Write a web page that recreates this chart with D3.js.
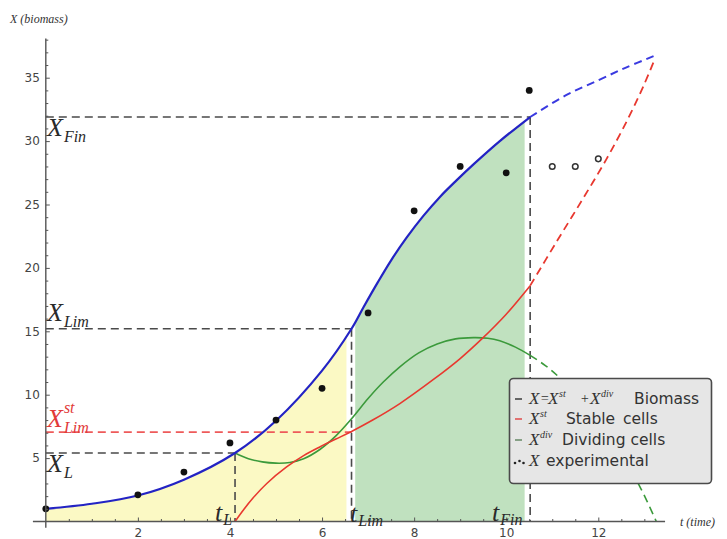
<!DOCTYPE html>
<html><head><meta charset="utf-8">
<script src="https://cdn.jsdelivr.net/npm/d3@7"></script>
<style>
html,body{margin:0;padding:0;background:#fff;}
svg{display:block;}
</style></head>
<body>
<svg id="chart" width="727" height="539"></svg>
<script>
// ---- data ----
const xTickLabels = [2, 4, 6, 8, 10, 12];
const yTickLabels = [5, 10, 15, 20, 25, 30, 35];

// biomass X (solid part, then extrapolated dashed part)
const bioT = [0, 1, 2, 3, 4.11, 5, 6, 6.64, 6.9, 7.2, 7.5, 7.84, 8.2, 8.56, 8.92, 9.3, 9.86, 10.52];
const bioX = [1.0, 1.4, 2.05, 3.3, 5.4, 7.95, 11.9, 15.2, 16.9, 18.8, 20.6, 22.4, 24.1, 25.6, 26.9, 28.2, 30.0, 31.9];
const bioDashT = [10.52, 11.29, 12.0, 12.6, 13.2];
const bioDashX = [31.9, 33.6, 34.8, 35.8, 36.7];

// stable cells X^st
const stT = [4.11, 4.3, 4.5, 4.8, 5.23, 5.6, 5.96, 6.3, 6.64, 7.1, 7.69, 8.42, 9.0, 9.47, 10.0, 10.52];
const stX = [0, 0.95, 1.85, 3.0, 4.3, 5.2, 5.9, 6.5, 7.1, 8.0, 9.3, 11.2, 12.85, 14.4, 16.35, 18.6];
const stDashT = [10.52, 11.1, 11.64, 12.18, 12.65, 13.0, 13.23];
const stDashX = [18.6, 22.1, 25.3, 28.6, 31.8, 34.5, 36.5];

// dividing cells X^div
const divT = [4.11, 4.4, 4.7, 5.0, 5.3, 5.6, 5.96, 6.3, 6.64, 7.0, 7.33, 7.69, 8.1, 8.5, 8.9, 9.29, 9.6, 9.86, 10.2, 10.52];
const divX = [5.4, 4.95, 4.7, 4.6, 4.65, 4.95, 5.7, 6.75, 8.1, 9.7, 11.0, 12.2, 13.3, 14.0, 14.4, 14.5, 14.45, 14.25, 13.75, 13.1];
const divDashT = [10.52, 10.85, 11.17, 11.64, 12.18, 12.65, 12.91, 13.26];
const divDashX = [13.1, 12.3, 11.3, 9.4, 6.8, 4.3, 2.7, 0];

// experimental points
const expT = [0, 2, 3, 4, 5, 6, 7, 8, 9, 10, 10.5];
const expX = [1.0, 2.1, 3.9, 6.2, 8.0, 10.5, 16.45, 24.5, 28.0, 27.5, 34.0];
const openT = [11, 11.5, 12];
const openX = [28.0, 28.0, 28.6];

// characteristic values
const tL = 4.11, tLim = 6.64, tFin = 10.52;
const XL = 5.4, XLim = 15.2, XLimSt = 7.05, XFin = 31.9;
const yellowRange = [0, 6.53];
const greenRange = [6.72, 10.4];

// ---- drawing ----
const svg = d3.select("#chart");
const x = d3.scaleLinear().domain([0, 12]).range([45.8, 598.3]);
const y = d3.scaleLinear().domain([0, 35]).range([521.5, 77.7]);

const zip = (a, b) => a.map((v, i) => [v, b[i]]);
const cv = d3.curveCatmullRom.alpha(0.5);
const line = d3.line().x(d => x(d[0])).y(d => y(d[1])).curve(cv);
const area = d3.area().x(d => x(d[0])).y0(y(0)).y1(d => y(d[1])).curve(cv);

const defs = svg.append("defs");
function clip(id, r) {
  defs.append("clipPath").attr("id", id).append("rect")
    .attr("x", x(r[0])).attr("y", 0).attr("width", x(r[1]) - x(r[0])).attr("height", y(0));
}
clip("cy", yellowRange);
clip("cg", greenRange);

const bio = zip(bioT, bioX);
svg.append("path").attr("d", area(bio)).attr("fill", "#fbf9c4").attr("clip-path", "url(#cy)");
svg.append("path").attr("d", area(bio)).attr("fill", "#c0e1bf").attr("clip-path", "url(#cg)");

// reference dashed lines
const refG = svg.append("g").attr("fill", "none").attr("stroke-width", 1.6).attr("stroke-dasharray", "8,5");
function hline(v, t1, col) {
  refG.append("line").attr("x1", x(0)).attr("x2", x(t1)).attr("y1", y(v)).attr("y2", y(v)).attr("stroke", col);
}
function vline(t, v) {
  refG.append("line").attr("x1", x(t)).attr("x2", x(t)).attr("y1", y(v)).attr("y2", y(0)).attr("stroke", "#4a4a4a");
}
hline(XFin, tFin, "#4a4a4a");
hline(XLim, tLim, "#4a4a4a");
hline(XL, tL, "#4a4a4a");
hline(XLimSt, tLim, "#ee5a5a");
vline(tL, XL);
vline(tLim, XLim);
vline(tFin, XFin);

// curves
const blue = "#2323c4", red = "#e8382f", green = "#3b9a3b";
function curve(data, col, w, dashed) {
  svg.append("path").attr("d", line(data)).attr("fill", "none").attr("stroke", col)
    .attr("stroke-width", w).attr("stroke-dasharray", dashed ? "8,5" : null);
}
curve(zip(divT, divX), green, 1.6, false);
curve(zip(divDashT, divDashX), green, 1.6, true);
curve(zip(stT, stX), red, 1.6, false);
curve(zip(stDashT, stDashX), red, 1.8, true);
curve(bio, blue, 2.2, false);
curve(zip(bioDashT, bioDashX), "#3a3ae0", 2.0, true);

// points
svg.append("g").selectAll("circle").data(zip(expT, expX)).join("circle")
  .attr("cx", d => x(d[0])).attr("cy", d => y(d[1])).attr("r", 3.4).attr("fill", "#111");
svg.append("g").selectAll("circle").data(zip(openT, openX)).join("circle")
  .attr("cx", d => x(d[0])).attr("cy", d => y(d[1])).attr("r", 2.8)
  .attr("fill", "#fff").attr("stroke", "#333").attr("stroke-width", 1.5);

// axes
const axCol = "#555";
const gx = svg.append("g").attr("transform", `translate(0,${y(0)})`)
  .call(d3.axisBottom(x).tickValues(xTickLabels).tickSizeInner(-4).tickSizeOuter(0).tickPadding(7));
const gxm = svg.append("g").attr("transform", `translate(0,${y(0)})`)
  .call(d3.axisBottom(x).tickValues(d3.range(0.5, 13.01, 0.5).filter(v => v % 2 !== 0)).tickSizeInner(-2.5).tickSizeOuter(0).tickFormat(""));
const gy = svg.append("g").attr("transform", `translate(${x(0)},0)`)
  .call(d3.axisLeft(y).tickValues(yTickLabels).tickSizeInner(-4).tickSizeOuter(0).tickPadding(6));
const gym = svg.append("g").attr("transform", `translate(${x(0)},0)`)
  .call(d3.axisLeft(y).tickValues(d3.range(1, 38.01, 1).filter(v => v % 5 !== 0)).tickSizeInner(-2.5).tickSizeOuter(0).tickFormat(""));
[gx, gxm, gy, gym].forEach(g => {
  g.select(".domain").remove();
  g.selectAll("line").attr("stroke", axCol).attr("stroke-width", 1);
  g.selectAll("text").attr("fill", "#444").attr("font-family", "DejaVu Sans").attr("font-size", 12);
});
svg.append("line").attr("x1", x(-0.28)).attr("x2", x(13.45)).attr("y1", y(0)).attr("y2", y(0))
  .attr("stroke", axCol).attr("stroke-width", 1.4);
svg.append("line").attr("x1", x(0)).attr("x2", x(0)).attr("y1", y(-0.5)).attr("y2", y(38.1))
  .attr("stroke", axCol).attr("stroke-width", 1.4);

// axis titles
const serif = "Liberation Serif";
svg.append("text").attr("x", 10).attr("y", 23).attr("font-family", serif).attr("font-style", "italic")
  .attr("font-size", 12).attr("fill", "#333").text("X (biomass)");
svg.append("text").attr("x", 680).attr("y", 526).attr("font-family", serif).attr("font-style", "italic")
  .attr("font-size", 12).attr("fill", "#333").text("t (time)");

// math labels
function mathLabel(px, py, base, sub, sup, col, big, small, subDy) {
  const t = svg.append("text").attr("x", px).attr("y", py).attr("font-family", serif)
    .attr("font-style", "italic").attr("fill", col).attr("font-size", big);
  t.append("tspan").text(base);
  const bb = t.node().getComputedTextLength();
  if (sup) svg.append("text").attr("x", px + bb + 1).attr("y", py - 14).attr("font-family", serif)
    .attr("font-style", "italic").attr("fill", col).attr("font-size", small).text(sup);
  if (sub) svg.append("text").attr("x", px + bb + 1).attr("y", py + (subDy == null ? 6 : subDy)).attr("font-family", serif)
    .attr("font-style", "italic").attr("fill", col).attr("font-size", small).text(sub);
}
const dark = "#2a2a2a";
mathLabel(47, 136, "X", "Fin", null, dark, 26, 16);
mathLabel(47, 321, "X", "Lim", null, dark, 26, 16);
mathLabel(47, 427, "X", "Lim", "st", "#e23a3a", 26, 16);
mathLabel(47, 472, "X", "L", null, dark, 26, 16);
mathLabel(215, 521, "t", "L", null, dark, 26, 16, 4);
mathLabel(350, 522, "t", "Lim", null, dark, 26, 16, 4);
mathLabel(492, 521, "t", "Fin", null, dark, 26, 16, 4);

// legend
const lg = svg.append("g");
lg.append("rect").attr("x", 509.5).attr("y", 378.5).attr("width", 202).attr("height", 105).attr("rx", 4)
  .attr("fill", "#e6e6e6").attr("stroke", "#4a4a4a").attr("stroke-width", 1.6);
const legendRows = [
  {dash: "#444", y: 404},
  {dash: "#e05555", y: 424},
  {dash: "#6e8e6e", y: 445},
  {dash: null, y: 466}
];
const sans = "DejaVu Sans", tc = "#333";
legendRows.forEach(r => {
  if (r.dash) lg.append("line").attr("x1", 515).attr("x2", 522).attr("y1", r.y - 5).attr("y2", r.y - 5)
    .attr("stroke", r.dash).attr("stroke-width", 1.6);
  else {
    lg.append("circle").attr("cx", 515).attr("cy", r.y - 3).attr("r", 1.3).attr("fill", "#222");
    lg.append("circle").attr("cx", 519.5).attr("cy", r.y - 5).attr("r", 1.3).attr("fill", "#222");
    lg.append("circle").attr("cx", 523.5).attr("cy", r.y - 3).attr("r", 1.3).attr("fill", "#222");
  }
});
function lt(px, py, str, opts) {
  return lg.append("text").attr("x", px).attr("y", py).attr("fill", tc)
    .attr("font-family", opts.serif ? serif : sans).attr("font-size", opts.size || 15.5)
    .attr("font-style", opts.serif ? "italic" : null).text(str);
}
// row 1
lt(529, 404, "X", {serif: 1, size: 17});
lt(540, 403, "=", {serif: 1, size: 14});
lt(548, 404, "X", {serif: 1, size: 17});
lt(559, 397, "st", {serif: 1, size: 10});
lt(580, 403, "+", {serif: 1, size: 14});
lt(590, 404, "X", {serif: 1, size: 17});
lt(601, 397, "div", {serif: 1, size: 10});
lt(634, 404, "Biomass", {});
// row 2
lt(529, 424, "X", {serif: 1, size: 17});
lt(540, 417, "st", {serif: 1, size: 10});
lt(566, 424, "Stable", {});
lt(623, 424, "cells", {});
// row 3
lt(529, 445, "X", {serif: 1, size: 17});
lt(540, 438, "div", {serif: 1, size: 10});
lt(562, 445, "Dividing cells", {});
// row 4
lt(529, 466, "X", {serif: 1, size: 17});
lt(546, 466, "experimental", {});
</script>
</body></html>
